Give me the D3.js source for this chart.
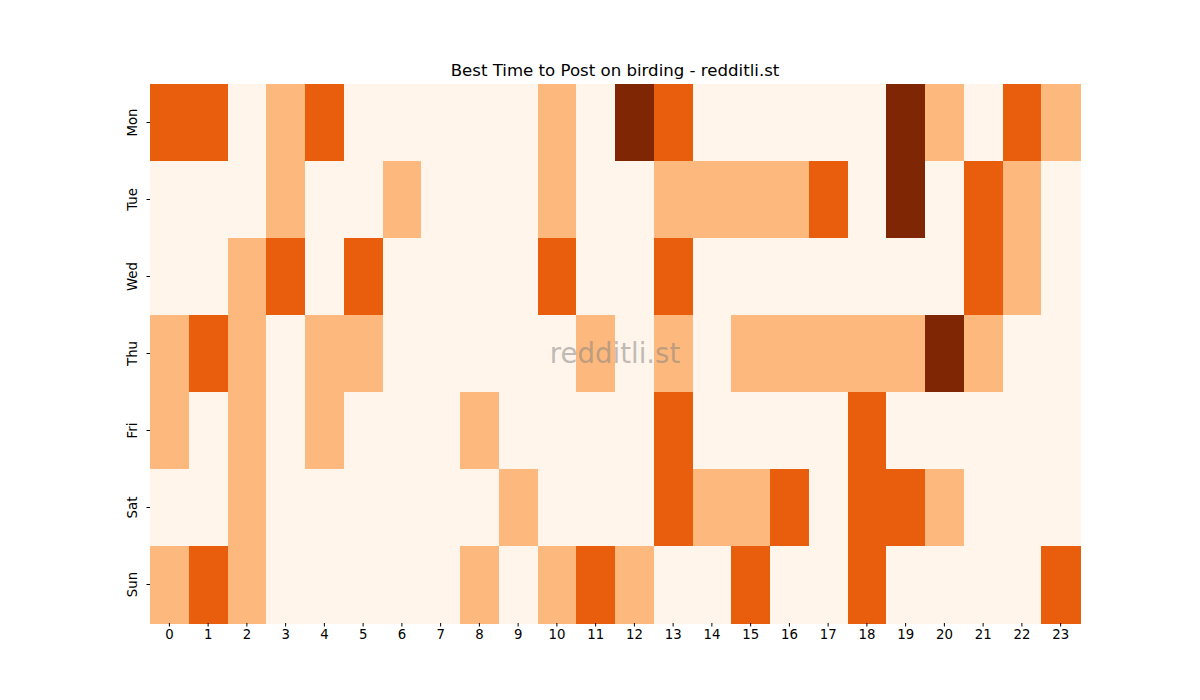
<!DOCTYPE html>
<html><head><meta charset="utf-8">
<script src="https://cdn.jsdelivr.net/npm/d3@7"></script>
<style>body{margin:0;background:#fff}svg{display:block}text{font-family:"DejaVu Sans",sans-serif}</style>
</head><body>
<script>
const days = ["Mon","Tue","Wed","Thu","Fri","Sat","Sun"];
const hours = d3.range(24);
const hourLabels = hours.map(String);
const mon = [2,2,0,1,2,0,0,0,0,0,1,0,3,2,0,0,0,0,0,3,1,0,2,1];
const tue = [0,0,0,1,0,0,1,0,0,0,1,0,0,1,1,1,1,2,0,3,0,2,1,0];
const wed = [0,0,1,2,0,2,0,0,0,0,2,0,0,2,0,0,0,0,0,0,0,2,1,0];
const thu = [1,2,1,0,1,1,0,0,0,0,0,1,0,1,0,1,1,1,1,1,3,1,0,0];
const fri = [1,0,1,0,1,0,0,0,1,0,0,0,0,2,0,0,0,0,2,0,0,0,0,0];
const sat = [0,0,1,0,0,0,0,0,0,1,0,0,0,2,1,1,2,0,2,2,1,0,0,0];
const sun = [1,2,1,0,0,0,0,0,1,0,1,2,1,0,0,2,0,0,2,0,0,0,0,2];
const rows = [mon,tue,wed,thu,fri,sat,sun];
const levelColors = ["#fff5eb","#fdb97d","#e95e0d","#7f2704"];

const W=1200,H=700, L=150,R=1080,T=84,B=623;
const svg=d3.select("body").append("svg").attr("width",W).attr("height",H);
const x=d3.scaleBand().domain(hours).range([L,R]);
const y=d3.scaleBand().domain(days).range([T,B]);
const color=d3.scaleOrdinal().domain([0,1,2,3]).range(levelColors);

const cells=[];
rows.forEach((r,i)=>r.forEach((v,j)=>cells.push({day:days[i],hour:hours[j],v})));
svg.append("g").selectAll("rect").data(cells).join("rect")
  .attr("x",d=>x(d.hour)).attr("y",d=>y(d.day))
  .attr("width",x.bandwidth()+0.5).attr("height",y.bandwidth()+0.5)
  .attr("fill",d=>color(d.v)).attr("shape-rendering","crispEdges");

const xa=svg.append("g").attr("transform",`translate(0,${B})`)
  .call(d3.axisBottom(x).tickSize(3.5).tickPadding(3.5).tickFormat((d,i)=>hourLabels[i]));
xa.select(".domain").remove();
xa.selectAll("text").attr("font-size","13.3px").attr("fill","#000").style("font-family","DejaVu Sans");
xa.selectAll("line").attr("stroke","#000");

const ya=svg.append("g").attr("transform",`translate(${L},0)`)
  .call(d3.axisLeft(y).tickSize(3.5).tickPadding(3.5));
ya.select(".domain").remove();
ya.selectAll("line").attr("stroke","#000");
ya.selectAll("text").attr("font-size","13.3px").attr("fill","#000").style("font-family","DejaVu Sans")
  .attr("text-anchor","middle").attr("x",null).attr("dy",null)
  .attr("transform","translate(-17.5,0) rotate(-90)").attr("dominant-baseline","central");

svg.append("text").attr("x",(L+R)/2).attr("y",T-8).attr("text-anchor","middle")
  .attr("font-size","16.6px").attr("fill","#000").text("Best Time to Post on birding - redditli.st");

svg.append("text").attr("x",(L+R)/2).attr("y",(T+B)/2).attr("text-anchor","middle")
  .attr("dominant-baseline","central").attr("font-size","27.6px").attr("fill","#808080").attr("fill-opacity",0.5)
  .text("redditli.st");
</script>
</body></html>
